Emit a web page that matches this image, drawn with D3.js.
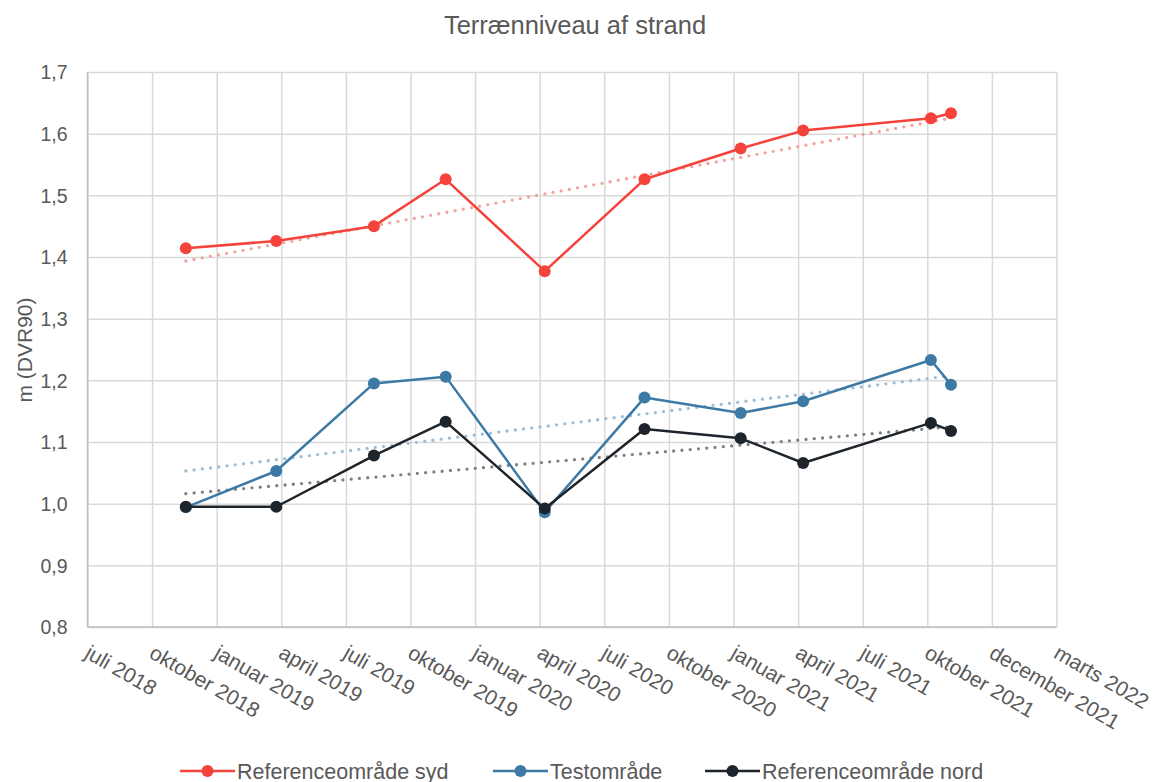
<!DOCTYPE html>
<html>
<head>
<meta charset="utf-8">
<script src="https://cdn.jsdelivr.net/npm/d3@7"></script>
<style>
  html, body { margin: 0; padding: 0; background: #fff; }
  text { font-family: "Liberation Sans", Arial, sans-serif; fill: #595959; }
</style>
</head>
<body>
<svg id="chart" width="1158" height="782"></svg>
<script>
// ---- data ----
const title = "Terrænniveau af strand";
const yAxisTitle = "m (DVR90)";
const seriesNames = ["Referenceområde syd", "Testområde", "Referenceområde nord"];
const dates = ["2018-12-03", "2019-04-08", "2019-08-22", "2019-11-30", "2020-04-16",
               "2020-09-02", "2021-01-14", "2021-04-11", "2021-10-06", "2021-11-03"];
const refSyd  = [1.414, 1.426, 1.450, 1.526, 1.377, 1.526, 1.576, 1.605, 1.625, 1.633];
const testomr = [0.994, 1.053, 1.195, 1.206, 0.986, 1.172, 1.147, 1.166, 1.233, 1.193];
const refNord = [0.995, 0.995, 1.078, 1.133, 0.992, 1.121, 1.106, 1.066, 1.131, 1.118];
const xTickDates = ["2018-07-19", "2018-10-17", "2019-01-15", "2019-04-15", "2019-07-14",
                    "2019-10-12", "2020-01-10", "2020-04-09", "2020-07-08", "2020-10-06",
                    "2021-01-04", "2021-04-04", "2021-07-03", "2021-10-01", "2021-12-30", "2022-03-30"];
const xTickLabels = ["juli 2018", "oktober 2018", "januar 2019", "april 2019", "juli 2019",
                     "oktober 2019", "januar 2020", "april 2020", "juli 2020", "oktober 2020",
                     "januar 2021", "april 2021", "juli 2021", "oktober 2021", "december 2021", "marts 2022"];
const yTicks = [0.8, 0.9, 1.0, 1.1, 1.2, 1.3, 1.4, 1.5, 1.6, 1.7];

// ---- styles ----
const colors = ["#F5423B", "#3C7AA5", "#1E242B"];
const trendColors = ["#F5A29D", "#9DBDD4", "#808080"];

const parse = d3.utcParse("%Y-%m-%d");
const xDates = dates.map(parse);
const tickDates = xTickDates.map(parse);
const allSeries = [refSyd, testomr, refNord];

const svg = d3.select("#chart");
const pLeft = 87.5, pRight = 1056.5, pTop = 72, pBottom = 627;

const x = d3.scaleUtc().domain([tickDates[0], tickDates[tickDates.length - 1]]).range([pLeft, pRight]);
const y = d3.scaleLinear().domain([0.8, 1.7]).range([pBottom, pTop]);

// gridlines
const yAxisG = svg.append("g").attr("transform", `translate(${pLeft},0)`)
  .call(d3.axisLeft(y).tickValues(yTicks).tickSize(-(pRight - pLeft)).tickPadding(20)
    .tickFormat(d => d3.format(".1f")(d).replace(".", ",")));
yAxisG.select(".domain").remove();
yAxisG.selectAll(".tick line").attr("stroke", "#D9D9D9").attr("stroke-width", 1.5);
yAxisG.selectAll(".tick text").attr("font-size", 19.5).attr("fill", "#595959")
  .attr("font-family", "Liberation Sans, Arial, sans-serif").attr("x", -20).attr("dy", "0.35em");

const xAxisG = svg.append("g").attr("transform", `translate(0,${pBottom})`)
  .call(d3.axisBottom(x).tickValues(tickDates).tickSize(-(pBottom - pTop)).tickFormat(""));
xAxisG.select(".domain").remove();
xAxisG.selectAll(".tick line").attr("stroke", "#D9D9D9").attr("stroke-width", 1.5);

// axis lines
svg.append("line").attr("x1", pLeft).attr("x2", pLeft).attr("y1", pTop).attr("y2", pBottom)
  .attr("stroke", "#BFBFBF").attr("stroke-width", 1.5);
svg.append("line").attr("x1", pLeft).attr("x2", pRight).attr("y1", pBottom).attr("y2", pBottom)
  .attr("stroke", "#BFBFBF").attr("stroke-width", 1.5);

// x tick labels (rotated)
svg.append("g").selectAll("text").data(tickDates).join("text")
  .attr("transform", (d) => `translate(${x(d) - 4},657) rotate(30)`)
  .attr("font-size", 21)
  .attr("text-anchor", "start")
  .text((d, i) => xTickLabels[i]);

// trendlines (linear regression, like Excel)
const tx = xDates.map(d => d.getTime());
allSeries.forEach((vals, si) => {
  const n = vals.length;
  const mx = d3.mean(tx), my = d3.mean(vals);
  let sxy = 0, sxx = 0;
  for (let i = 0; i < n; i++) { sxy += (tx[i] - mx) * (vals[i] - my); sxx += (tx[i] - mx) ** 2; }
  const b = sxy / sxx, a = my - b * mx;
  const x0 = tx[0], x1 = tx[n - 1];
  svg.append("line")
    .attr("x1", x(new Date(x0))).attr("y1", y(a + b * x0))
    .attr("x2", x(new Date(x1))).attr("y2", y(a + b * x1))
    .attr("stroke", trendColors[si]).attr("stroke-width", 3.3)
    .attr("stroke-linecap", "round").attr("stroke-dasharray", "0,8.3");
});

// series
const line = d3.line().x(d => x(d[0])).y(d => y(d[1]));
allSeries.forEach((vals, si) => {
  const pts = vals.map((v, i) => [xDates[i], v]);
  svg.append("path").datum(pts).attr("d", line)
    .attr("fill", "none").attr("stroke", colors[si]).attr("stroke-width", 2.5)
    .attr("stroke-linejoin", "round");
  svg.append("g").selectAll("circle").data(pts).join("circle")
    .attr("cx", d => x(d[0])).attr("cy", d => y(d[1])).attr("r", 6)
    .attr("fill", colors[si]);
});

// title
svg.append("text").attr("x", 575).attr("y", 34).attr("text-anchor", "middle")
  .attr("font-size", 25.5).text(title);

// y axis title
svg.append("text").attr("transform", "translate(32,350) rotate(-90)")
  .attr("text-anchor", "middle").attr("font-size", 21).text(yAxisTitle);

// legend
const legendX = [180, 493, 705];
const lg = svg.append("g");
seriesNames.forEach((name, i) => {
  const gx = legendX[i], gy = 771;
  lg.append("line").attr("x1", gx).attr("x2", gx + 55).attr("y1", gy).attr("y2", gy)
    .attr("stroke", colors[i]).attr("stroke-width", 2.5);
  lg.append("circle").attr("cx", gx + 27.5).attr("cy", gy).attr("r", 6).attr("fill", colors[i]);
  lg.append("text").attr("x", gx + 57).attr("y", gy + 7.5).attr("font-size", 21.5).text(name);
});
</script>
</body>
</html>
